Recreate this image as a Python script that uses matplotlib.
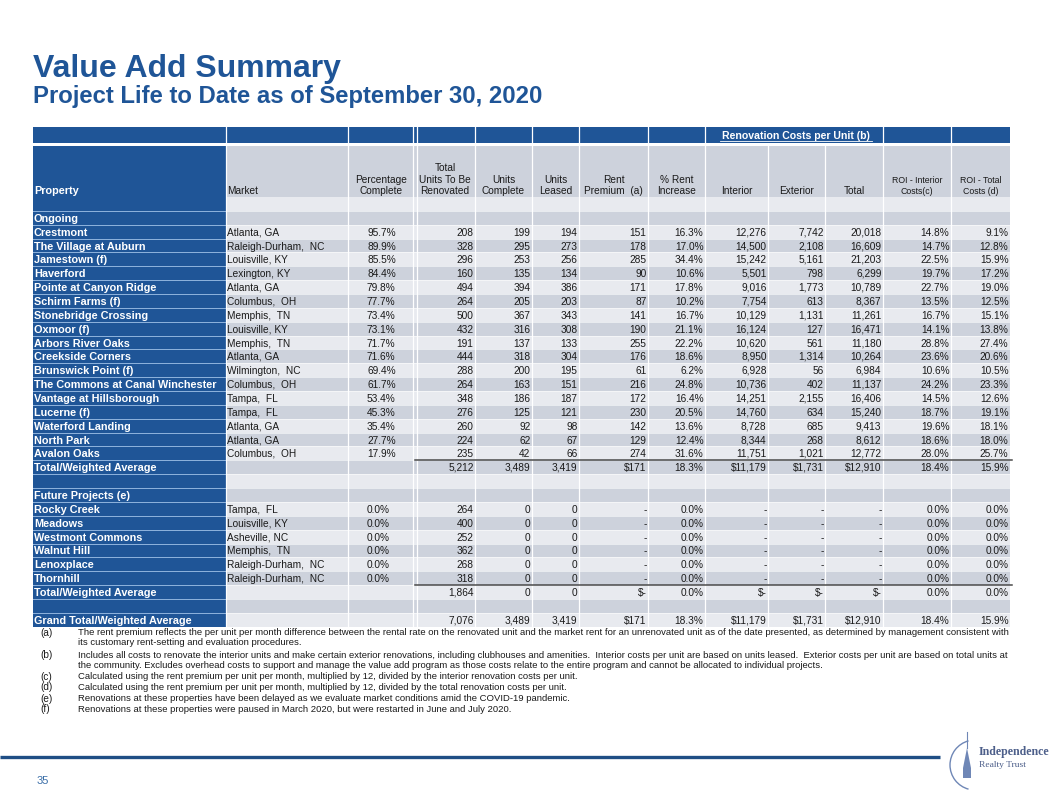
import matplotlib
matplotlib.use("Agg")
import matplotlib.pyplot as plt
from matplotlib.patches import Rectangle, Arc, Polygon
from matplotlib.font_manager import FontProperties
from matplotlib.backends.backend_agg import get_hinting_flag

FAMILY = ['Liberation Sans', 'DejaVu Sans']
plt.rcParams['font.family'] = FAMILY

# ---------------- data ----------------
ongoing_props = ["Crestmont", "The Village at Auburn", "Jamestown (f)", "Haverford",
                 "Pointe at Canyon Ridge", "Schirm Farms (f)", "Stonebridge Crossing",
                 "Oxmoor (f)", "Arbors River Oaks", "Creekside Corners", "Brunswick Point (f)",
                 "The Commons at Canal Winchester", "Vantage at Hillsborough", "Lucerne (f)",
                 "Waterford Landing", "North Park", "Avalon Oaks"]
ongoing_markets = ["Atlanta, GA", "Raleigh-Durham,  NC", "Louisville, KY", "Lexington, KY",
                   "Atlanta, GA", "Columbus,  OH", "Memphis,  TN", "Louisville, KY",
                   "Memphis,  TN", "Atlanta, GA", "Wilmington,  NC", "Columbus,  OH",
                   "Tampa,  FL", "Tampa,  FL", "Atlanta, GA", "Atlanta, GA", "Columbus,  OH"]
ongoing_pct_complete = [95.7, 89.9, 85.5, 84.4, 79.8, 77.7, 73.4, 73.1, 71.7, 71.6, 69.4,
                        61.7, 53.4, 45.3, 35.4, 27.7, 17.9]
ongoing_total_units = [208, 328, 296, 160, 494, 264, 500, 432, 191, 444, 288, 264, 348, 276, 260, 224, 235]
ongoing_units_complete = [199, 295, 253, 135, 394, 205, 367, 316, 137, 318, 200, 163, 186, 125, 92, 62, 42]
ongoing_units_leased = [194, 273, 256, 134, 386, 203, 343, 308, 133, 304, 195, 151, 187, 121, 98, 67, 66]
ongoing_rent_premium = [151, 178, 285, 90, 171, 87, 141, 190, 255, 176, 61, 216, 172, 230, 142, 129, 274]
ongoing_pct_rent_increase = [16.3, 17.0, 34.4, 10.6, 17.8, 10.2, 16.7, 21.1, 22.2, 18.6, 6.2,
                             24.8, 16.4, 20.5, 13.6, 12.4, 31.6]
ongoing_interior = [12276, 14500, 15242, 5501, 9016, 7754, 10129, 16124, 10620, 8950, 6928,
                    10736, 14251, 14760, 8728, 8344, 11751]
ongoing_exterior = [7742, 2108, 5161, 798, 1773, 613, 1131, 127, 561, 1314, 56, 402, 2155, 634, 685, 268, 1021]
ongoing_total_cost = [20018, 16609, 21203, 6299, 10789, 8367, 11261, 16471, 11180, 10264, 6984,
                      11137, 16406, 15240, 9413, 8612, 12772]
ongoing_roi_interior = [14.8, 14.7, 22.5, 19.7, 22.7, 13.5, 16.7, 14.1, 28.8, 23.6, 10.6,
                        24.2, 14.5, 18.7, 19.6, 18.6, 28.0]
ongoing_roi_total = [9.1, 12.8, 15.9, 17.2, 19.0, 12.5, 15.1, 13.8, 27.4, 20.6, 10.5,
                     23.3, 12.6, 19.1, 18.1, 18.0, 25.7]

future_props = ["Rocky Creek", "Meadows", "Westmont Commons", "Walnut Hill", "Lenoxplace", "Thornhill"]
future_markets = ["Tampa,  FL", "Louisville, KY", "Asheville, NC", "Memphis,  TN",
                  "Raleigh-Durham,  NC", "Raleigh-Durham,  NC"]
future_pct_complete = [0.0, 0.0, 0.0, 0.0, 0.0, 0.0]
future_total_units = [264, 400, 252, 362, 268, 318]
future_units_complete = [0, 0, 0, 0, 0, 0]
future_units_leased = [0, 0, 0, 0, 0, 0]

ongoing_total = ["5,212", "3,489", "3,419", "$171", "18.3%", "$11,179", "$1,731", "$12,910", "18.4%", "15.9%"]
future_total = ["1,864", "0", "0", "$-", "0.0%", "$-", "$-", "$-", "0.0%", "0.0%"]
grand_total = ["7,076", "3,489", "3,419", "$171", "18.3%", "$11,179", "$1,731", "$12,910", "18.4%", "15.9%"]

footnotes = [
    ("(a)", ["The rent premium reflects the per unit per month difference between the rental rate on the renovated unit and the market rent for an unrenovated unit as of the date presented, as determined by management consistent with",
             "its customary rent-setting and evaluation procedures."]),
    ("(b)", ["Includes all costs to renovate the interior units and make certain exterior renovations, including clubhouses and amenities.  Interior costs per unit are based on units leased.  Exterior costs per unit are based on total units at",
             "the community. Excludes overhead costs to support and manage the value add program as those costs relate to the entire program and cannot be allocated to individual projects."]),
    ("(c)", ["Calculated using the rent premium per unit per month, multiplied by 12, divided by the interior renovation costs per unit."]),
    ("(d)", ["Calculated using the rent premium per unit per month, multiplied by 12, divided by the total renovation costs per unit."]),
    ("(e)", ["Renovations at these properties have been delayed as we evaluate market conditions amid the COVID-19 pandemic."]),
    ("(f)", ["Renovations at these properties were paused in March 2020, but were restarted in June and July 2020."]),
]

# ---------------- layout ----------------
W, H = 1058, 796
fig = plt.figure(figsize=(W / 100, H / 100), dpi=100)
ax = fig.add_axes([0, 0, 1, 1])
ax.set_xlim(0, W)
ax.set_ylim(H, 0)
ax.axis('off')
renderer = fig.canvas.get_renderer()

BLUE = '#1F5597'
LIGHT = '#E8EAEF'
DARK = '#CDD2DC'
TXT = '#1a1a1a'
FS = 7.3

edges = [33, 226, 348, 415, 475, 532, 579, 648, 705, 768, 825, 883, 951, 1010]
H1_TOP, H1_BOT = 127, 143
H2_TOP, H2_BOT = 146, 197
ROW_H = 13.86
BOFF = 3.7  # baseline offset from visual centre


def put(x, base, s, size, weight='normal', color=TXT, ha='left'):
    """Place text so that its baseline lands on pixel row `base` regardless of descenders."""
    base = round(base)
    y = base
    try:
        fp = FontProperties(family=FAMILY, size=size, weight=weight)
        font = renderer._prepare_font(fp)
        font.set_text(s, 0, flags=get_hinting_flag())
        _, h64 = font.get_width_height()
        d64 = font.get_descent()
        ymax64 = h64 - d64
        y = base + (h64 // 64) - (ymax64 // 64) - d64 / 64.0
    except Exception:
        pass
    ax.text(x, y, s, fontsize=size, fontweight=weight, color=color, ha=ha, va='baseline')


def rect(x0, y0, x1, y1, c):
    ax.add_patch(Rectangle((x0, y0), x1 - x0, y1 - y0, facecolor=c, edgecolor='none', lw=0))


# Title
ax.text(33, 77, "Value Add Summary", fontsize=23, fontweight='bold', color=BLUE, va='baseline', ha='left')
ax.text(33, 103, "Project Life to Date as of September 30, 2020", fontsize=17.2, fontweight='bold',
        color=BLUE, va='baseline', ha='left')

# Header rows
rect(edges[0], H1_TOP, edges[-1], H1_BOT, BLUE)
rect(edges[0], H2_TOP, edges[1], H2_BOT, BLUE)
rect(edges[1], H2_TOP, edges[-1], H2_BOT, DARK)

put(796, 135 + BOFF, "Renovation Costs per Unit (b)", 7.6, 'bold', 'white', 'center')
ax.plot([720, 872], [141, 141], color='white', lw=0.6)

hdr = [
    (1, "Market", 'left', FS),
    (2, "Percentage\nComplete", 'center', FS),
    (3, "Total\nUnits To Be\nRenovated", 'center', FS),
    (4, "Units\nComplete", 'center', FS),
    (5, "Units\nLeased", 'center', FS),
    (6, "Rent\nPremium  (a)", 'center', FS),
    (7, "% Rent\nIncrease", 'center', FS),
    (8, "Interior", 'center', FS),
    (9, "Exterior", 'center', FS),
    (10, "Total", 'center', FS),
    (11, "ROI - Interior\nCosts(c)", 'center', 6.3),
    (12, "ROI - Total\nCosts (d)", 'center', 6.3),
]
for ci, label, ha, fs in hdr:
    lines = label.split("\n")
    step = 11.6 if fs == FS else 10.8
    for j, ln in enumerate(reversed(lines)):
        yc = 190.5 - j * step
        x = edges[ci] + 1 if ha == 'left' else (edges[ci] + edges[ci + 1]) / 2
        put(x, yc + BOFF * fs / FS, ln, fs, 'normal', TXT, ha)
put(edges[0] + 1, 190.5 + BOFF, "Property", 7.8, 'bold', 'white', 'left')

# Body rows
rows = []  # (kind, label, cells)
rows.append(('blank', '', None))
rows.append(('section', 'Ongoing', None))
for i in range(len(ongoing_props)):
    cells = [ongoing_markets[i], f"{ongoing_pct_complete[i]:.1f}%", f"{ongoing_total_units[i]:,}",
             f"{ongoing_units_complete[i]:,}", f"{ongoing_units_leased[i]:,}", f"{ongoing_rent_premium[i]:,}",
             f"{ongoing_pct_rent_increase[i]:.1f}%", f"{ongoing_interior[i]:,}", f"{ongoing_exterior[i]:,}",
             f"{ongoing_total_cost[i]:,}", f"{ongoing_roi_interior[i]:.1f}%", f"{ongoing_roi_total[i]:.1f}%"]
    rows.append(('data', ongoing_props[i], cells))
rows.append(('total', 'Total/Weighted Average', ["", ""] + ongoing_total))
rows.append(('blank', '', None))
rows.append(('section', 'Future Projects (e)', None))
for i in range(len(future_props)):
    cells = [future_markets[i], f"{future_pct_complete[i]:.1f}%", f"{future_total_units[i]:,}",
             f"{future_units_complete[i]:,}", f"{future_units_leased[i]:,}", "-", "0.0%", "-", "-", "-",
             "0.0%", "0.0%"]
    rows.append(('data', future_props[i], cells))
rows.append(('total', 'Total/Weighted Average', ["", ""] + future_total))
rows.append(('blank', '', None))
rows.append(('total', 'Grand Total/Weighted Average', ["", ""] + grand_total))

y = H2_BOT
total_line_ys = []
for k, (kind, label, cells) in enumerate(rows):
    y0, y1 = y + k * ROW_H, y + (k + 1) * ROW_H
    yb = (y0 + y1) / 2 + BOFF + 0.3
    rect(edges[0], y0, edges[1], y1, BLUE)
    rect(edges[1], y0, edges[-1], y1, LIGHT if k % 2 == 0 else DARK)
    if k > 0:
        ax.plot([edges[0], edges[1]], [y0, y0], color='#8FB3DE', lw=0.7)
        ax.plot([edges[1], edges[-1]], [y0, y0], color='white', lw=0.5, alpha=0.8)
    if label:
        put(edges[0] + 1, yb, label, 7.8, 'bold', 'white', 'left')
    if cells:
        for ci, val in enumerate(cells, start=1):
            if not val:
                continue
            if ci == 1:
                put(edges[1] + 1, yb, val, FS, 'normal', TXT, 'left')
            elif ci == 2:
                put(edges[2] + 19, yb, val, FS, 'normal', TXT, 'left')
            else:
                put(edges[ci + 1] - 1.5, yb, val, FS, 'normal', TXT, 'right')
    if kind == 'total' and k < len(rows) - 1:
        total_line_ys.append(y0)
table_bottom = H2_BOT + len(rows) * ROW_H

# vertical separators
for i, xe in enumerate(edges[1:-1], start=1):
    if i == 3:
        for xx in (413.3, 416.7):
            ax.plot([xx, xx], [H1_TOP, table_bottom], color='white', lw=0.9)
        continue
    if i in (9, 10):
        ax.plot([xe, xe], [H2_TOP, table_bottom], color='white', lw=0.9)
    else:
        ax.plot([xe, xe], [H1_TOP, table_bottom], color='white', lw=0.9)

# total lines
for ty in total_line_ys:
    ax.plot([edges[3], edges[-1] + 2], [ty, ty], color='#4a4a4a', lw=1.1)

# footnotes
fy = [632, 642, 655, 665, 676, 687, 698, 709]
idx = 0
for lab, lines in footnotes:
    put(40, fy[idx] + 3.5, lab, 7.2, 'normal', TXT, 'left')
    for ln in lines:
        put(78, fy[idx] + 3, ln, 6.8, 'normal', TXT, 'left')
        idx += 1

# footer
ax.plot([0, 940], [757, 757], color='#1F4E85', lw=2.4, solid_capstyle='butt')
ax.text(37, 781, "35", fontsize=8, color='#3A6EA8', ha='left', va='center')

# logo
ax.add_patch(Arc((975, 765), 50, 50, theta1=105, theta2=255, color='#6F87B6', lw=1.0))
ax.add_patch(Polygon([[963, 768], [967, 748], [971, 768]], closed=True, facecolor='#6F87B6', edgecolor='none'))
ax.add_patch(Rectangle((963, 768), 8, 10, facecolor='#6F87B6', edgecolor='none'))
ax.plot([967, 967], [732, 748], color='#6F87B6', lw=0.8)
ax.text(979, 752, "Independence", fontsize=8.6, family=['Liberation Serif', 'DejaVu Serif'],
        fontweight='bold', color='#4D5F8A', ha='left', va='center')
ax.text(979, 765, "Realty Trust", fontsize=6.8, family=['Liberation Serif', 'DejaVu Serif'],
        color='#4D5F8A', ha='left', va='center')

fig.savefig("out.png", dpi=100, facecolor='white')
